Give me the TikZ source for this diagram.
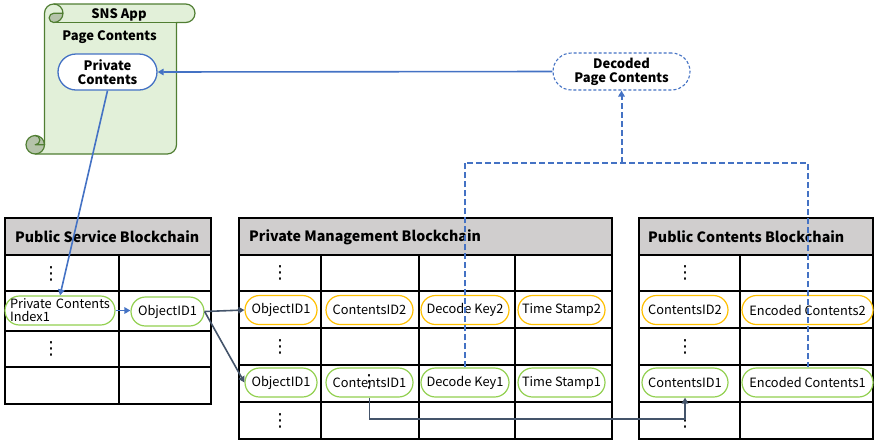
\documentclass[tikz,border=0pt]{standalone}
\usepackage{fontspec}
\setmainfont{Noto Sans CJK KR}
\newfontfamily\dotfont{DejaVu Sans}
\usetikzlibrary{arrows.meta,calc}
\definecolor{scrollfill}{HTML}{E2F0D9}
\definecolor{scrollline}{HTML}{507E32}
\definecolor{curlfill}{HTML}{B5C3AA}
\definecolor{linkblue}{HTML}{4472C4}
\definecolor{linkgray}{HTML}{44546A}
\definecolor{headgray}{HTML}{D0CECE}
\definecolor{pillorange}{HTML}{FFC000}
\definecolor{pillgreen}{HTML}{92D050}
\begin{document}
\begin{tikzpicture}[x=1pt,y=-1pt,
  grid/.style={draw=black,line width=1.2pt},
  head/.style={grid,fill=headgray},
  headtext/.style={anchor=west,inner sep=0pt,font=\bfseries\fontsize{14.2}{17}\selectfont},
  pill/.style={draw,line width=1.2pt,fill=white,rounded corners=14.5pt,minimum height=29pt,
    inner sep=0pt,font=\fontsize{12.8}{13}\selectfont},
  opill/.style={pill,draw=pillorange},
  gpill/.style={pill,draw=pillgreen},
  vdots/.style={inner sep=0pt,font=\dotfont\fontsize{18}{18}\selectfont},
  bluelink/.style={draw=linkblue,line width=1.6pt,-{Triangle[length=6pt,width=6.5pt]}},
  graylink/.style={draw=linkgray,line width=1.6pt,-{Triangle[length=6pt,width=6.5pt]}},
  dashlink/.style={draw=linkblue,line width=2pt,dash pattern=on 6pt off 3pt},
  title/.style={inner sep=0pt,font=\bfseries\fontsize{13}{14}\selectfont},
]
\useasboundingbox (0,0) rectangle (874,440);

% ---------- SNS App scroll ----------
\fill[scrollfill] (35.25,154) arc[start angle=-90,end angle=0,radius=9.25pt]
  -- (44.5,13.25) arc[start angle=180,end angle=90,radius=9.25pt]
  -- (185.75,4) arc[start angle=90,end angle=-90,radius=9.25pt]
  -- (176.5,22.5) -- (176.5,144.75) arc[start angle=0,end angle=-90,radius=9.25pt] -- cycle;
\fill[curlfill] (35.25,144.75) circle[radius=9.25pt];
\fill[curlfill] (63,13.25) arc[start angle=0,end angle=-90,radius=9.25pt]
  arc[start angle=-90,end angle=-270,radius=4.625pt] -- cycle;
\begin{scope}[draw=scrollline,line width=1.2pt,line join=round]
  \draw (44.5,144.75) -- (44.5,13.25) arc[start angle=180,end angle=90,radius=9.25pt]
    -- (185.75,4) arc[start angle=90,end angle=-90,radius=9.25pt]
    -- (176.5,22.5) -- (176.5,144.75) arc[start angle=0,end angle=-90,radius=9.25pt]
    -- (35.25,154);
  \draw (35.25,144.75) circle[radius=9.25pt];
  \draw (35.25,135.5) arc[start angle=90,end angle=-90,radius=4.625pt] -- (44.5,144.75);
  \draw (53.75,4) arc[start angle=90,end angle=-90,radius=9.25pt]
    arc[start angle=-90,end angle=-270,radius=4.625pt] -- (63,13.25);
  \draw (176.5,22.5) -- (53.75,22.5);
\end{scope}
\node[title] (app) at (119,15) {SNS App};
\node[title] (page) at (109.5,37) {Page Contents};
\node[draw=linkblue,line width=1.3pt,fill=white,rounded corners=18pt,minimum width=99pt,
  minimum height=36pt,inner sep=0pt,align=center,font=\bfseries\fontsize{13}{14}\selectfont]
  (pc) at (107.5,72) {Private\\Contents};

\node[draw=linkblue,line width=1.1pt,dash pattern=on 3pt off 2pt,fill=white,rounded corners=18.5pt,
  minimum width=137pt,minimum height=37pt,inner sep=0pt,align=center,
  font=\bfseries\fontsize{13}{14}\selectfont] (dec) at (621.5,71.5) {Decoded\\Page Contents};

% ---------- Public Service Blockchain ----------
\draw[head] (5,218) rectangle (211,255);
\draw[grid] (5,255) rectangle (211,404);
\draw[grid] (5,291) -- (211,291) (5,331) -- (211,331) (5,367) -- (211,367) (119,255) -- (119,404);
\node[headtext] (pshead) at (15,237) {Public Service Blockchain};

% ---------- Private Management Blockchain ----------
\draw[head] (239,218) rectangle (612,255);
\draw[grid] (239,255) rectangle (612,439);
\draw[grid] (239,291) -- (612,291) (239,328) -- (612,328) (239,365) -- (612,365) (239,402) -- (612,402)
  (321,255) -- (321,439) (419,255) -- (419,439) (515,255) -- (515,439);
\node[headtext] (pmhead) at (249,237) {Private Management Blockchain};

% ---------- Public Contents Blockchain ----------
\draw[head] (639,218) rectangle (873,255);
\draw[grid] (639,255) rectangle (873,439);
\draw[grid] (639,291) -- (873,291) (639,328) -- (873,328) (639,365) -- (873,365) (639,402) -- (873,402)
  (740,255) -- (740,439);
\node[headtext] (pchead) at (648,237) {Public Contents Blockchain};

% ---------- records ----------
\node[gpill,minimum width=110pt,text width=100pt,align=left] (pci) at (60,310.5) {Private Contents\\Index1};
\node[gpill,minimum width=73pt] (psobj) at (167.5,311.5) {ObjectID1};

\node[opill,minimum width=72pt] (pmobjb) at (281,310) {ObjectID1};
\node[opill,minimum width=87pt] (pmcidb) at (369.5,310) {ContentsID2};
\node[opill,minimum width=88pt] (pmkeyb) at (465,310) {Decode Key2};
\node[opill,minimum width=87pt] (pmtsb) at (561.5,310) {Time Stamp2};
\node[gpill,minimum width=72pt] (pmobja) at (281,382.5) {ObjectID1};
\node[gpill,minimum width=87pt] (pmcida) at (369.5,382.5) {ContentsID1};
\node[gpill,minimum width=88pt] (pmkeya) at (465,382.5) {Decode Key1};
\node[gpill,minimum width=87pt] (pmtsa) at (561.5,382.5) {Time Stamp1};

\node[opill,minimum width=86pt] (pccidb) at (685,310) {ContentsID2};
\node[opill,minimum width=131pt] (pcencb) at (807.5,310) {Encoded Contents2};
\node[gpill,minimum width=86pt] (pccida) at (685,382.5) {ContentsID1};
\node[gpill,minimum width=131pt] (pcenca) at (807.5,382.5) {Encoded Contents1};

% ---------- elided rows ----------
\node[vdots] (d1) at (51,274) {⋮};
\node[vdots] (d2) at (51,349) {⋮};
\node[vdots] (d3) at (280,273) {⋮};
\node[vdots] (d4) at (280,347) {⋮};
\node[vdots] (d5) at (280,421) {⋮};
\node[vdots] (d6) at (685,273) {⋮};
\node[vdots] (d7) at (685,347) {⋮};
\node[vdots] (d8) at (685,421) {⋮};
\node[vdots] (d9) at (369,382) {⋮};

% ---------- links ----------
\draw[bluelink] (dec.west) -- (pc.east);
\draw[bluelink] (pc.south) -- (pci.north);
\draw[bluelink] (pci.east) -- (pci.east -| psobj.west);
\draw[graylink] (psobj.east) -- (pmobjb.west);
\draw[graylink] (psobj.east) -- (pmobja.west);
\draw[graylink] (pmcida.south) -- ++(0,21.5) -| (pccida.south);
\coordinate (join) at (621.5,162.5);
\draw[dashlink] (pmkeya.north) |- (join) -| (pcenca.north);
\draw[dashlink,-{Triangle[length=6pt,width=6.5pt]}] (join) -- (dec.south);
\end{tikzpicture}
\end{document}
